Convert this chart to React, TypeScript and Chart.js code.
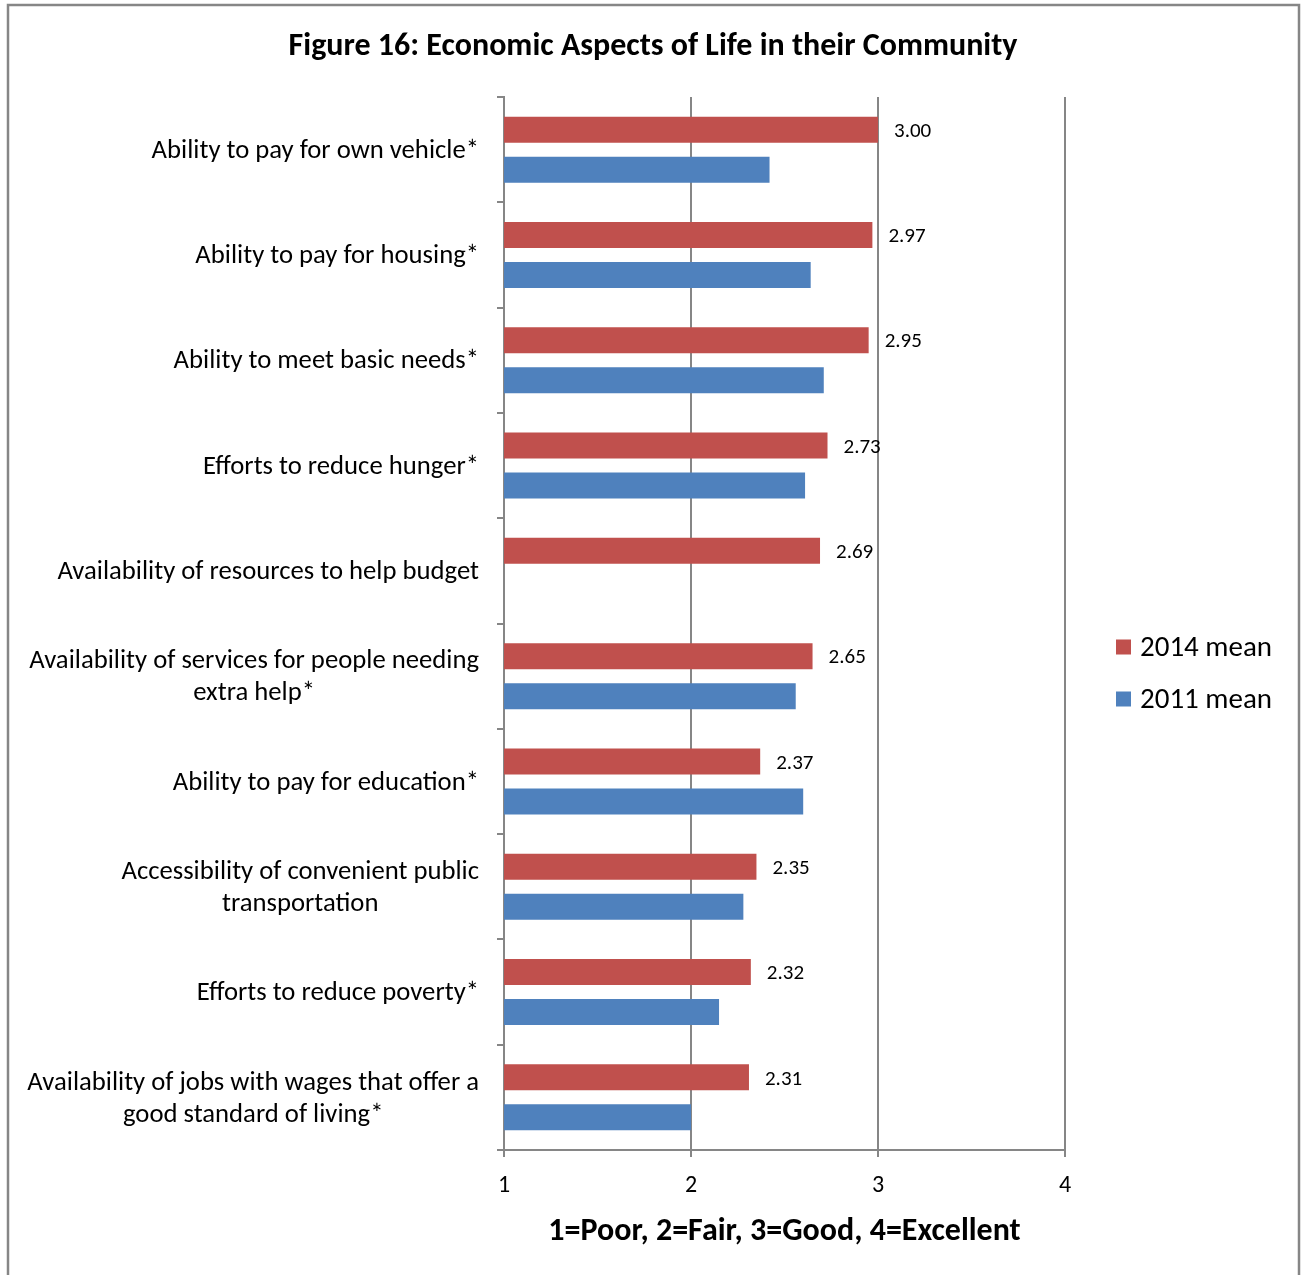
import React, { useEffect, useRef } from "react";
import { Chart, registerables } from "chart.js";

Chart.register(...registerables);

const categories: (string | string[])[] = [
  "Ability to pay for own vehicle*",
  "Ability to pay for housing*",
  "Ability to meet basic needs*",
  "Efforts to reduce hunger*",
  "Availability of resources to help budget",
  ["Availability of services for people needing", "extra help*"],
  "Ability to pay for education*",
  ["Accessibility of convenient public", "transportation"],
  "Efforts to reduce poverty*",
  ["Availability of jobs with wages that offer a", "good standard of living*"],
];

const mean2014 = [3.0, 2.97, 2.95, 2.73, 2.69, 2.65, 2.37, 2.35, 2.32, 2.31];
const mean2011: (number | null)[] = [2.42, 2.64, 2.71, 2.61, null, 2.56, 2.6, 2.28, 2.15, 2.0];

const seriesNames = ["2014 mean", "2011 mean"];
const xTicks = [1, 2, 3, 4];
const chartTitle = "Figure 16: Economic Aspects of Life in their Community";
const axisTitle = "1=Poor, 2=Fair, 3=Good, 4=Excellent";

const FONT = "Carlito, Lato, sans-serif";
const RED = "#C0504D";
const BLUE = "#4F81BD";
const GRID = "#868686";

const customPlugin = {
  id: "custom",
  afterDraw(chart: any) {
    const ctx = chart.ctx;
    const yScale = chart.scales.y;
    ctx.save();
    // frame
    ctx.strokeStyle = GRID;
    ctx.lineWidth = 2.5;
    ctx.strokeRect(8, 5, 1291, 1400);

    // title
    ctx.fillStyle = "#000";
    ctx.textBaseline = "middle";
    ctx.textAlign = "center";
    ctx.font = `bold 32px ${FONT}`;
    ctx.fillText(chartTitle, 653, 47);

    // category labels
    ctx.font = `26.7px ${FONT}`;
    const rightX = 479;
    categories.forEach((lab, i) => {
      const lines = Array.isArray(lab) ? lab : [lab];
      const y = yScale.getPixelForValue(i);
      const maxW = Math.max(...lines.map((l) => ctx.measureText(l).width));
      lines.forEach((l, j) => {
        const cy = y + (j - (lines.length - 1) / 2) * 32 + 1.5;
        ctx.fillText(l, rightX - maxW / 2, cy);
      });
    });

    // data labels for 2014
    const meta = chart.getDatasetMeta(0);
    ctx.font = `21px ${FONT}`;
    ctx.textAlign = "left";
    meta.data.forEach((bar: any, i: number) => {
      const v = mean2014[i];
      if (v == null) return;
      ctx.fillText(v.toFixed(2), bar.x + 16, bar.y + 2);
    });

    // legend
    const colors = [RED, BLUE];
    const ys = [647, 699];
    ctx.font = `29px ${FONT}`;
    seriesNames.forEach((name, i) => {
      ctx.fillStyle = colors[i];
      ctx.fillRect(1116, ys[i] - 7.5, 15, 15);
      ctx.fillStyle = "#000";
      ctx.fillText(name, 1140, ys[i] + 2);
    });
    ctx.restore();
  },
};

export default function App() {
  const ref = useRef<HTMLCanvasElement | null>(null);
  useEffect(() => {
    if (!ref.current) return;
    const chart = new Chart(ref.current, {
      type: "bar",
      data: {
        labels: categories.map((c) => (Array.isArray(c) ? c.join(" ") : c)),
        datasets: [
          {
            label: seriesNames[0],
            data: mean2014,
            backgroundColor: RED,
            barPercentage: 0.65,
            categoryPercentage: 0.76,
          },
          {
            label: seriesNames[1],
            data: mean2011,
            backgroundColor: BLUE,
            barPercentage: 0.65,
            categoryPercentage: 0.76,
          },
        ],
      },
      options: {
        indexAxis: "y",
        responsive: false,
        animation: false,
        devicePixelRatio: 1,
        layout: { padding: { left: 0, right: 236, top: 97, bottom: 0 } },
        plugins: {
          legend: { display: false },
          tooltip: { enabled: false },
          title: { display: false },
        },
        scales: {
          x: {
            type: "linear",
            min: 1,
            max: 4,
            afterBuildTicks(scale: any) {
              scale.ticks = xTicks.map((v) => ({ value: v }));
            },
            afterFit(scale: any) {
              scale.height = 125;
            },
            grid: { color: GRID, lineWidth: 2, tickLength: 7, drawTicks: true },
            border: { color: GRID, width: 2 },
            ticks: {
              color: "#000",
              font: { family: FONT, size: 24 },
              padding: 15,
              stepSize: 1,
            },
            title: {
              display: true,
              text: axisTitle,
              color: "#000",
              font: { family: FONT, size: 32, weight: "bold" },
              padding: { top: 0, bottom: 24 },
            },
          },
          y: {
            afterFit(scale: any) {
              scale.width = 504;
            },
            grid: {
              drawOnChartArea: false,
              drawTicks: true,
              tickLength: 7,
              color: GRID,
              lineWidth: 2,
            },
            border: { color: GRID, width: 2 },
            ticks: { display: false },
          },
        },
      },
      plugins: [customPlugin],
    } as any);
    return () => chart.destroy();
  }, []);
  return (
    <div>
      <canvas
        ref={ref}
        width={1301}
        height={1275}
        style={{ position: "absolute", left: 0, top: 0, background: "#fff" }}
      />
    </div>
  );
}
